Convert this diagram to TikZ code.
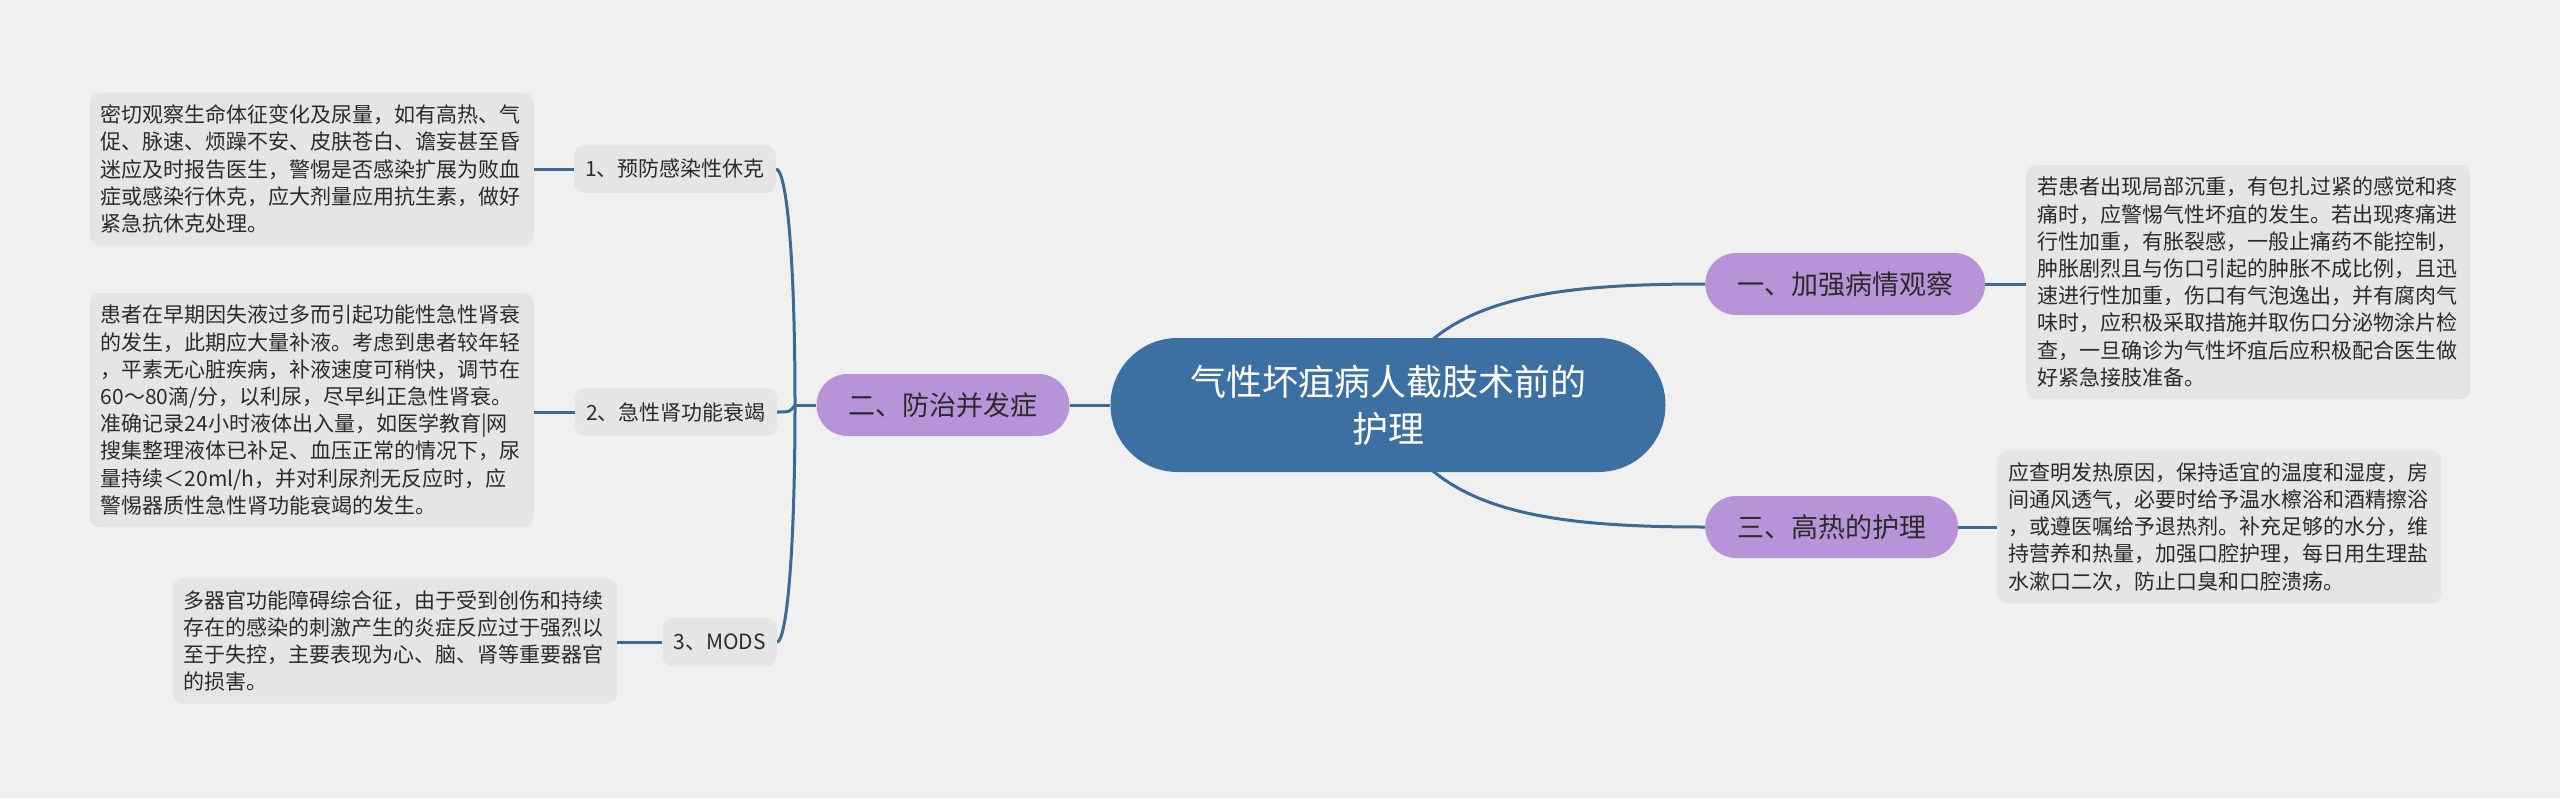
\documentclass[tikz,border=0pt]{standalone}
\usepackage{fontspec}
\setmainfont{Noto Sans CJK SC}
\usetikzlibrary{backgrounds}
\definecolor{bg}{HTML}{F0F0F0}
\definecolor{boxfill}{HTML}{E5E5E5}
\definecolor{lav}{HTML}{B794D8}
\definecolor{mainblue}{HTML}{3C70A3}
\definecolor{linec}{HTML}{3A6A9A}
\definecolor{txt}{HTML}{2B2B2B}
\tikzset{
 conn/.style={draw=linec, line width=3pt},
 textbox/.style={fill=boxfill, rounded corners=10pt, text width=422pt, align=left, inner xsep=11pt, inner ysep=12pt, font=\fontsize{21}{27.2}\selectfont, text=txt},
 subnode/.style={fill=boxfill, rounded corners=10pt, inner xsep=11pt, minimum height=48pt, font=\fontsize{21}{25}\selectfont, text=txt},
 topic/.style={fill=lav, rounded corners=31pt, inner xsep=32pt, minimum height=62pt, font=\fontsize{27}{32}\selectfont, text=txt},
 rootnode/.style={fill=mainblue, rounded corners=67pt, minimum width=555pt, minimum height=134pt, align=center, font=\fontsize{36}{47}\selectfont, text=white},
}
\begin{document}
\begin{tikzpicture}[x=1pt,y=-1pt]
\useasboundingbox (0,0) rectangle (2560,798);
% nodes
\node[rootnode] (root) at (1388,405) {气性坏疽病人截肢术前的\\护理};
\node[topic] (two) at (943,405) {二、防治并发症};
\node[topic, anchor=west] (one) at (1705,284) {一、加强病情观察};
\node[topic, anchor=west] (three) at (1705,527) {三、高热的护理};
\node[subnode, anchor=east] (c1) at (776,169) {1、预防感染性休克};
\node[subnode, anchor=east] (c2) at (777,412) {2、急性肾功能衰竭};
\node[subnode, anchor=east] (c3) at (777,642) {3、MODS};
\node[textbox, anchor=east] (b1) at (534,169) {密切观察生命体征变化及尿量，如有高热、气\\促、脉速、烦躁不安、皮肤苍白、谵妄甚至昏\\迷应及时报告医生，警惕是否感染扩展为败血\\症或感染行休克，应大剂量应用抗生素，做好\\紧急抗休克处理。};
\node[textbox, anchor=east] (b2) at (534,410) {患者在早期因失液过多而引起功能性急性肾衰\\的发生，此期应大量补液。考虑到患者较年轻\\，平素无心脏疾病，补液速度可稍快，调节在\\60～80滴/分，以利尿，尽早纠正急性肾衰。\\准确记录24小时液体出入量，如医学教育|网\\搜集整理液体已补足、血压正常的情况下，尿\\量持续＜20ml/h，并对利尿剂无反应时，应\\警惕器质性急性肾功能衰竭的发生。};
\node[textbox, anchor=east] (b3) at (617,641) {多器官功能障碍综合征，由于受到创伤和持续\\存在的感染的刺激产生的炎症反应过于强烈以\\至于失控，主要表现为心、脑、肾等重要器官\\的损害。};
\node[textbox, anchor=west] (r1) at (2026,282) {若患者出现局部沉重，有包扎过紧的感觉和疼\\痛时，应警惕气性坏疽的发生。若出现疼痛进\\行性加重，有胀裂感，一般止痛药不能控制，\\肿胀剧烈且与伤口引起的肿胀不成比例，且迅\\速进行性加重，伤口有气泡逸出，并有腐肉气\\味时，应积极采取措施并取伤口分泌物涂片检\\查，一旦确诊为气性坏疽后应积极配合医生做\\好紧急接肢准备。};
\node[textbox, anchor=west] (r2) at (1997,527) {应查明发热原因，保持适宜的温度和湿度，房\\间通风透气，必要时给予温水檫浴和酒精擦浴\\，或遵医嘱给予退热剂。补充足够的水分，维\\持营养和热量，加强口腔护理，每日用生理盐\\水漱口二次，防止口臭和口腔溃疡。};
\coordinate (J) at (795,405);
% connectors
\begin{pgfonlayer}{background}
\fill[bg] (0,0) rectangle (2560,798);
\draw[conn] (root.center) .. controls (1425,300) and (1540,284) .. (one.west);
\draw[conn] (root.center) .. controls (1425,510) and (1540,527) .. (three.west);
\draw[conn] (root.west) -- (two.east);
\draw[conn] (two.west) -- (J);
\draw[conn] (J) .. controls (795,250) and (786,169) .. (c1.east);
\draw[conn] (J) .. controls (790,412) .. (c2.east);
\draw[conn] (J) .. controls (795,560) and (786,642) .. (c3.east);
\draw[conn] (c1.west) -- (c1.west -| b1.east);
\draw[conn] (c2.west) -- (c2.west -| b2.east);
\draw[conn] (c3.west) -- (c3.west -| b3.east);
\draw[conn] (one.east) -- (one.east -| r1.west);
\draw[conn] (three.east) -- (three.east -| r2.west);
\end{pgfonlayer}
\end{tikzpicture}
\end{document}
